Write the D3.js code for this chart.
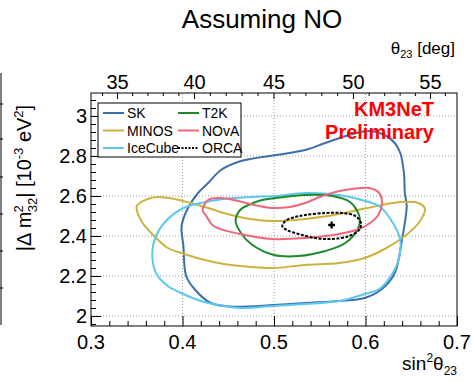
<!DOCTYPE html>
<html>
<head>
<meta charset="utf-8">
<script src="https://cdn.jsdelivr.net/npm/d3@7"></script>
<style>
  body { margin: 0; background: #fff; }
  svg { display: block; font-family: "Liberation Sans", Arial, sans-serif; }
</style>
</head>
<body>
<div id="chart"></div>
<script>
// contours: [sin^2 theta23, dm2_32 (1e-3 eV^2)]
var skPts = [[0.502,2.805],[0.464,2.775],[0.442,2.73],[0.428,2.665],[0.417,2.615],[0.406,2.54],[0.399,2.45],[0.401,2.35],[0.404,2.20],[0.413,2.135],[0.431,2.065],[0.453,2.047],[0.500,2.055],[0.534,2.065],[0.571,2.075],[0.599,2.09],[0.618,2.135],[0.632,2.215],[0.640,2.385],[0.645,2.55],[0.643,2.615],[0.642,2.715],[0.638,2.815],[0.632,2.865],[0.621,2.905],[0.604,2.925],[0.582,2.905],[0.556,2.865],[0.534,2.83]];
var minosPts = [[0.350,2.55],[0.362,2.585],[0.373,2.595],[0.391,2.585],[0.409,2.565],[0.428,2.54],[0.445,2.515],[0.474,2.485],[0.498,2.475],[0.534,2.485],[0.571,2.51],[0.602,2.54],[0.638,2.57],[0.658,2.565],[0.665,2.535],[0.658,2.465],[0.643,2.40],[0.621,2.335],[0.599,2.29],[0.571,2.265],[0.534,2.255],[0.498,2.24],[0.475,2.245],[0.445,2.26],[0.420,2.285],[0.402,2.31],[0.384,2.34],[0.369,2.40],[0.355,2.475]];
var icecubePts = [[0.401,2.54],[0.420,2.565],[0.445,2.585],[0.475,2.595],[0.502,2.60],[0.534,2.615],[0.571,2.605],[0.596,2.58],[0.616,2.545],[0.630,2.465],[0.638,2.38],[0.636,2.28],[0.627,2.195],[0.615,2.135],[0.599,2.11],[0.571,2.075],[0.534,2.06],[0.498,2.05],[0.464,2.04],[0.439,2.055],[0.420,2.075],[0.401,2.11],[0.384,2.15],[0.371,2.215],[0.367,2.315],[0.371,2.40],[0.384,2.485]];
var t2kPts = [[0.458,2.475],[0.463,2.53],[0.472,2.555],[0.487,2.58],[0.502,2.59],[0.534,2.605],[0.564,2.60],[0.583,2.57],[0.591,2.525],[0.594,2.48],[0.591,2.43],[0.578,2.365],[0.556,2.325],[0.527,2.30],[0.500,2.305],[0.475,2.36],[0.464,2.415]];
var novaPts = [[0.422,2.53],[0.428,2.58],[0.441,2.59],[0.456,2.58],[0.474,2.56],[0.498,2.54],[0.517,2.545],[0.534,2.565],[0.550,2.595],[0.567,2.62],[0.585,2.635],[0.604,2.64],[0.615,2.615],[0.618,2.56],[0.614,2.505],[0.605,2.465],[0.593,2.435],[0.571,2.41],[0.534,2.39],[0.498,2.385],[0.463,2.41],[0.434,2.45],[0.426,2.50]];
var orcaPts = [[0.509,2.45],[0.514,2.48],[0.523,2.495],[0.534,2.505],[0.556,2.515],[0.574,2.515],[0.589,2.50],[0.595,2.465],[0.593,2.43],[0.582,2.40],[0.563,2.385],[0.545,2.39],[0.527,2.41],[0.514,2.43]];
var bestFit = [0.563, 2.455];

var xTicks = [0.3, 0.4, 0.5, 0.6, 0.7];
var yTicks = [2, 2.2, 2.4, 2.6, 2.8, 3];
var degTicks = [35, 40, 45, 50, 55];

var experiments = [
  {name: "SK", color: "#3d6fad", pts: skPts, dash: null},
  {name: "MINOS", color: "#cdb33e", pts: minosPts, dash: null},
  {name: "IceCube", color: "#5cc8ee", pts: icecubePts, dash: null},
  {name: "T2K", color: "#1e8a2c", pts: t2kPts, dash: null},
  {name: "NOvA", color: "#f0667a", pts: novaPts, dash: null},
  {name: "ORCA", color: "#000000", pts: orcaPts, dash: "3,1.5"}
];

var width = 474, height = 381;
var margin = {top: 93, right: 17, bottom: 55, left: 91};

var svg = d3.select("#chart").append("svg")
  .attr("width", width).attr("height", height);

var x = d3.scaleLinear().domain([0.3, 0.7]).range([margin.left, width - margin.right]);
var y = d3.scaleLinear().domain([1.95, 3.115]).range([height - margin.bottom, margin.top]);

var x0 = x.range()[0], x1 = x.range()[1], y0 = y.range()[0], y1 = y.range()[1];

// edge of the neighbouring panel
svg.append("line").attr("x1", 1).attr("x2", 1).attr("y1", 73).attr("y2", 325)
  .attr("stroke", "#000").attr("stroke-width", 1);
[104, 139, 177, 214, 251, 288].forEach(function(v){
  svg.append("line").attr("x1", 0).attr("x2", 3).attr("y1", v).attr("y2", v).attr("stroke", "#000");
});

// grid
var grid = svg.append("g").attr("stroke", "#999").attr("stroke-dasharray", "1,2").attr("stroke-width", 1);
[0.4, 0.5, 0.6].forEach(function(v){
  grid.append("line").attr("x1", x(v)).attr("x2", x(v)).attr("y1", y0).attr("y2", y1);
});
yTicks.forEach(function(v){
  grid.append("line").attr("x1", x0).attr("x2", x1).attr("y1", y(v)).attr("y2", y(v));
});

// bottom axis, ticks inward
var bottomAxis = d3.axisBottom(x).tickValues(d3.range(0.3, 0.7001, 0.02)).tickSize(-5).tickFormat("");
var gb = svg.append("g").attr("transform", `translate(0,${y0})`).call(bottomAxis);
gb.select(".domain").remove();
gb.selectAll(".tick line").filter(function(d){ return xTicks.some(function(t){ return Math.abs(t - d) < 1e-6; }); })
  .attr("y2", -10);
xTicks.forEach(function(v){
  svg.append("text").attr("x", x(v)).attr("y", y0 + 23).attr("text-anchor", "middle")
    .attr("font-size", 20).text(d3.format(".1f")(v));
});

// left axis, ticks inward
var leftAxis = d3.axisLeft(y).tickValues(d3.range(1.96, 3.1, 0.04)).tickSize(-5).tickFormat("");
var gl = svg.append("g").attr("transform", `translate(${x0},0)`).call(leftAxis);
gl.select(".domain").remove();
gl.selectAll(".tick line").filter(function(d){ return yTicks.some(function(t){ return Math.abs(t - d) < 1e-6; }); })
  .attr("x2", 10);
yTicks.forEach(function(v){
  svg.append("text").attr("x", x0 - 4).attr("y", y(v) + 7).attr("text-anchor", "end")
    .attr("font-size", 20).text(v === 2 || v === 3 ? v : d3.format(".1f")(v));
});

// top axis in degrees
function degToX(d){ var s = Math.sin(d * Math.PI / 180); return x(s * s); }
d3.range(34, 57).forEach(function(d){
  var major = degTicks.indexOf(d) >= 0;
  svg.append("line").attr("x1", degToX(d)).attr("x2", degToX(d))
    .attr("y1", y1).attr("y2", y1 + (major ? 6 : 3)).attr("stroke", "#000");
});
degTicks.forEach(function(d){
  svg.append("text").attr("x", degToX(d)).attr("y", y1 - 4).attr("text-anchor", "middle")
    .attr("font-size", 20).text(d);
});

// frame
svg.append("rect").attr("x", x0).attr("y", y1).attr("width", x1 - x0).attr("height", y0 - y1)
  .attr("fill", "none").attr("stroke", "#000").attr("stroke-width", 1);

// contours
var line = d3.line().x(function(d){ return x(d[0]); }).y(function(d){ return y(d[1]); })
  .curve(d3.curveCatmullRomClosed);
experiments.forEach(function(e){
  svg.append("path").attr("d", line(e.pts)).attr("fill", "none")
    .attr("stroke", e.color).attr("stroke-width", 2)
    .attr("stroke-dasharray", e.dash);
});

// best fit marker
svg.append("path").attr("d", d3.symbol(d3.symbolCross, 26)())
  .attr("transform", `translate(${x(bestFit[0])},${y(bestFit[1])})`).attr("fill", "#000");

// legend
var lg = svg.append("g");
lg.append("rect").attr("x", 98).attr("y", 103).attr("width", 143).attr("height", 54)
  .attr("fill", "#fff").attr("stroke", "#000");
experiments.forEach(function(e, i){
  var col = Math.floor(i / 3), row = i % 3;
  var lx = col === 0 ? 103 : 178, ly = 113 + row * 17.5;
  lg.append("line").attr("x1", lx).attr("x2", lx + 21).attr("y1", ly).attr("y2", ly)
    .attr("stroke", e.color).attr("stroke-width", 2)
    .attr("stroke-dasharray", e.dash ? "2,1.5" : null);
  lg.append("text").attr("x", lx + 24).attr("y", ly + 5).attr("font-size", 14).text(e.name);
});

// labels
svg.append("text").attr("x", 262).attr("y", 28).attr("text-anchor", "middle")
  .attr("font-size", 26).text("Assuming NO");

var tt = svg.append("text").attr("x", 455).attr("y", 54).attr("text-anchor", "end").attr("font-size", 17);
tt.append("tspan").text("θ");
tt.append("tspan").attr("font-size", 11).attr("dy", 4).text("23");
tt.append("tspan").attr("dy", -4).text(" [deg]");

var xt = svg.append("text").attr("x", 457).attr("y", 370).attr("text-anchor", "end").attr("font-size", 19);
xt.append("tspan").text("sin");
xt.append("tspan").attr("font-size", 12).attr("dy", -8).text("2");
xt.append("tspan").attr("dy", 8).text("θ");
xt.append("tspan").attr("font-size", 12).attr("dy", 5).text("23");

var yt = svg.append("text").attr("transform", "translate(31,178) rotate(-90)")
  .attr("text-anchor", "middle").attr("font-size", 20);
yt.append("tspan").text("|Δ m");
yt.append("tspan").attr("font-size", 13).attr("dy", -8).attr("dx", -1).text("2");
yt.append("tspan").attr("font-size", 13).attr("dy", 14).attr("dx", -7).text("32");
yt.append("tspan").attr("dy", -6).text("| [10");
yt.append("tspan").attr("font-size", 13).attr("dy", -8).text("-3");
yt.append("tspan").attr("dy", 8).text(" eV");
yt.append("tspan").attr("font-size", 13).attr("dy", -8).text("2");
yt.append("tspan").attr("dy", 8).text("]");

svg.append("text").attr("x", 434).attr("y", 116).attr("text-anchor", "end")
  .attr("font-size", 20).attr("font-weight", "bold").attr("fill", "#ff0000").text("KM3NeT");
svg.append("text").attr("x", 434).attr("y", 139).attr("text-anchor", "end")
  .attr("font-size", 20).attr("font-weight", "bold").attr("fill", "#ff0000").text("Preliminary");
</script>
</body>
</html>
